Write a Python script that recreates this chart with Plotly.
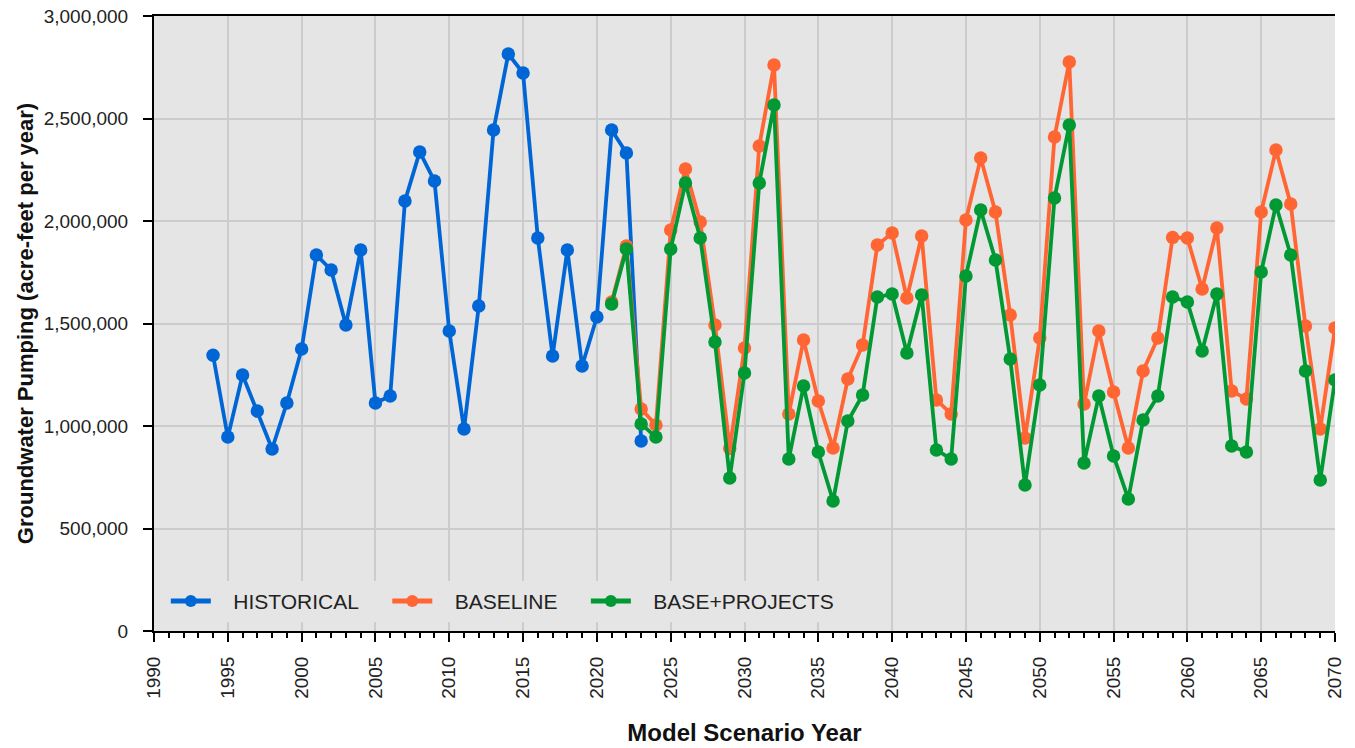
import plotly.graph_objects as go

# historical pumping
hist_years = list(range(1994, 2024))
hist_vals = [
    1345000, 946000, 1249000, 1073000, 888000, 1112000, 1376000, 1834000,
    1761000, 1493000, 1859000, 1112000, 1146000, 2098000, 2337000, 2195000,
    1463000, 985000, 1585000, 2444000, 2815000, 2722000, 1917000, 1341000,
    1859000, 1293000, 1532000, 2444000, 2332000, 927000,
]

# projections
proj_years = list(range(2021, 2071))
baseline_vals = [
    1605000, 1878000, 1083000, 1005000, 1956000, 2254000, 1995000, 1493000,
    890000, 1380000, 2366000, 2761000, 1059000, 1420000, 1122000, 893000,
    1229000, 1395000, 1883000, 1941000, 1624000, 1927000, 1127000, 1059000,
    2005000, 2307000, 2044000, 1541000, 941000, 1429000, 2410000, 2776000,
    1107000, 1463000, 1166000, 893000, 1268000, 1429000, 1920000, 1917000,
    1668000, 1966000, 1171000, 1132000, 2044000, 2346000, 2083000, 1488000,
    985000, 1478000,
]
projects_vals = [
    1595000, 1863000, 1010000, 946000, 1863000, 2185000, 1917000, 1410000,
    746000, 1259000, 2185000, 2566000, 839000, 1195000, 873000, 634000,
    1024000, 1151000, 1629000, 1644000, 1356000, 1639000, 883000, 839000,
    1732000, 2054000, 1810000, 1327000, 712000, 1200000, 2112000, 2468000,
    820000, 1146000, 854000, 644000, 1029000, 1146000, 1629000, 1605000,
    1366000, 1644000, 902000, 873000, 1751000, 2078000, 1834000, 1268000,
    737000, 1224000,
]

tick_font = dict(family="Liberation Sans, Arial", size=19, color="#222222")
pad = "\u00a0" * 3  # extra room around legend labels

fig = go.Figure()
series = [
    ("HISTORICAL", hist_years, hist_vals, "#0066d6"),
    ("BASELINE", proj_years, baseline_vals, "#ff6633"),
    ("BASE+PROJECTS", proj_years, projects_vals, "#009933"),
]
for name, xs, ys, col in series:
    fig.add_trace(go.Scatter(
        x=xs, y=ys, name=pad + name + pad + "\u00a0", mode="lines+markers",
        line=dict(color=col, width=3.8),
        marker=dict(color=col, size=13.5),
    ))

fig.update_layout(
    width=1355, height=748,
    margin=dict(l=154, r=20, t=16, b=117, autoexpand=False),
    paper_bgcolor="white",
    plot_bgcolor="#e5e5e5",
    showlegend=True,
    legend=dict(
        orientation="h", x=0.010, y=0.015, xanchor="left", yanchor="bottom",
        bgcolor="#e5e5e5",
        font=dict(family="Liberation Sans, Arial", size=21, color="#222222"),
        itemwidth=40, itemsizing="constant",
    ),
)
fig.update_xaxes(
    range=[1990, 2070], dtick=5, tick0=1990, automargin=False,
    showgrid=True, gridcolor="#cccccc", gridwidth=2,
    showline=True, linecolor="black", linewidth=2, mirror=True,
    ticks="outside", ticklen=9, tickwidth=2, tickcolor="black",
    tickangle=-90, tickfont=tick_font, ticklabelstandoff=7,
    minor=dict(dtick=1, ticks="outside", ticklen=5, tickwidth=1.5,
               tickcolor="black", showgrid=False),
    title=dict(text="<b>Model Scenario Year</b>",
               font=dict(family="Liberation Sans, Arial", size=24, color="#111111"),
               standoff=26),
    zeroline=False,
)
fig.update_yaxes(
    range=[0, 3000000], dtick=500000, tickformat=",", automargin=False,
    showgrid=True, gridcolor="#cccccc", gridwidth=2,
    showline=True, linecolor="black", linewidth=2,
    ticks="outside", ticklen=9, tickwidth=2, tickcolor="black",
    tickfont=tick_font, ticklabelstandoff=11, ticklabeloverflow="allow",
    title=dict(text="<b>Groundwater Pumping (acre-feet per year)</b>",
               font=dict(family="Liberation Sans, Arial", size=22, color="#111111"),
               standoff=4),
    zeroline=False,
)

# drop the default body margin so the chart sits flush in the window
fig.write_html("out.html", config={"displayModeBar": False},
               post_script="document.body.style.margin='0';")
